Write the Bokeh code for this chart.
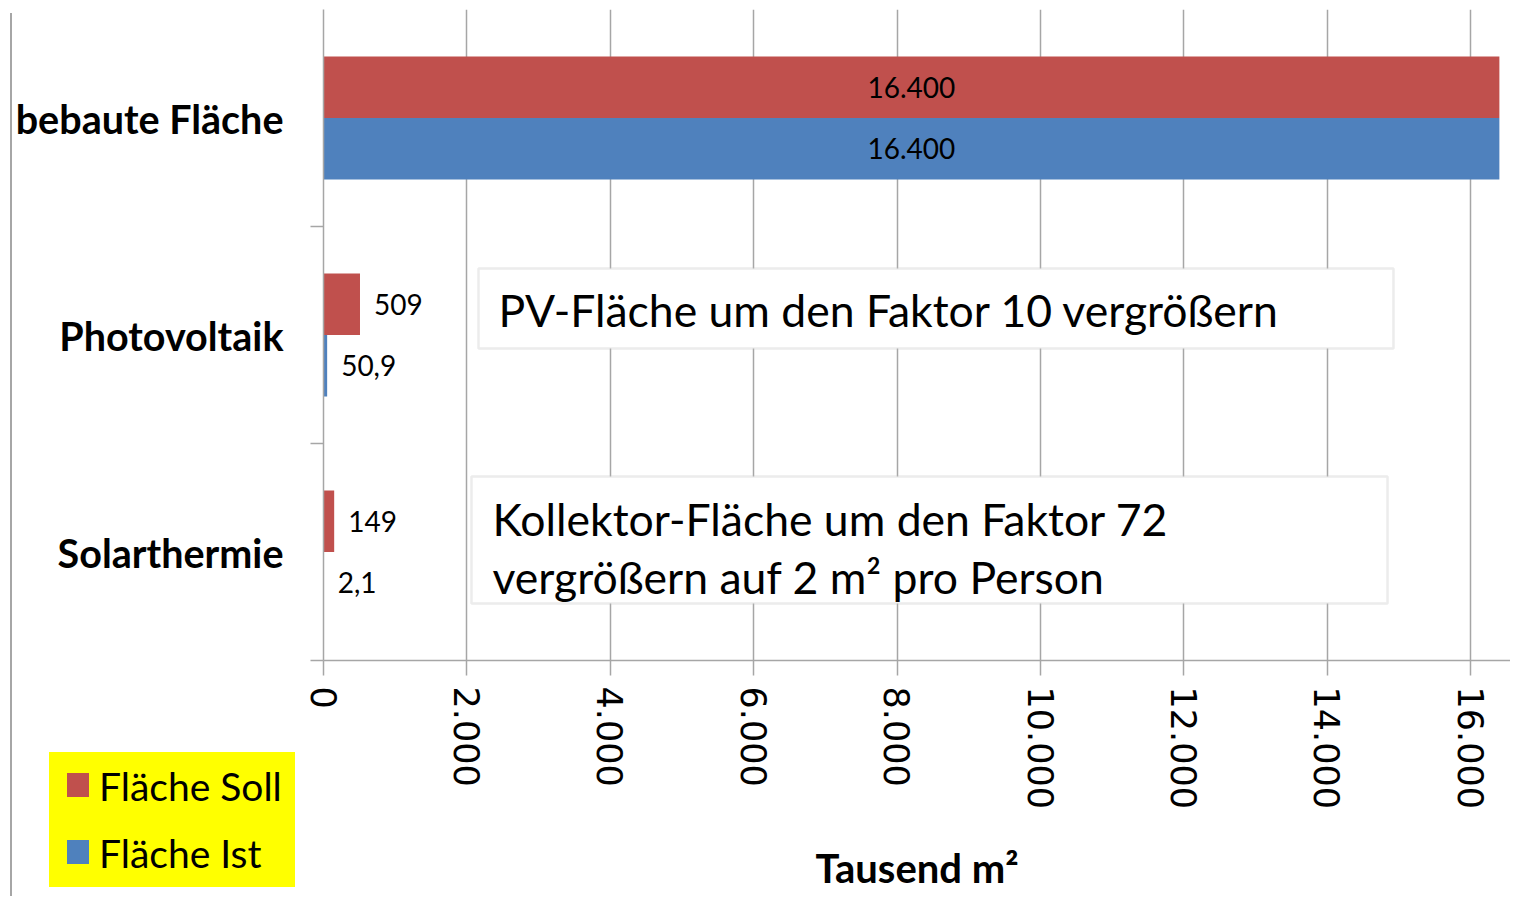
import math
import numpy as np
from bokeh.plotting import figure
from bokeh.layouts import column
from bokeh.models import (Range1d, FixedTicker, ColumnDataSource, LabelSet, Label,
                          BoxAnnotation, Div, InlineStyleSheet)
from bokeh.core.properties import value, field
from bokeh.transform import dodge
from bokeh.embed import file_html
from bokeh.resources import INLINE

# ---- data ----
categories = ["bebaute Fläche", "Photovoltaik", "Solarthermie"]
soll = [16400, 509, 149]
ist = [16400, 50.9, 2.1]
soll_text = ["16.400", "509", "149"]
ist_text = ["16.400", "50,9", "2,1"]
x_ticks = [0, 2000, 4000, 6000, 8000, 10000, 12000, 14000, 16000]
x_tick_labels = ["0", "2.000", "4.000", "6.000", "8.000", "10.000", "12.000", "14.000", "16.000"]
series_names = ["Fläche Soll", "Fläche Ist"]
note_pv = "PV-Fläche um den Faktor 10 vergrößern"
note_st = "Kollektor-Fläche um den Faktor 72\nvergrößern auf 2 m² pro Person"
x_title = "Tausend m²"

RED = "#C0504D"
BLUE = "#4F81BD"
series_colors = [RED, BLUE]
GRID = "#a6a6a6"
FONT = "Lato"

ypos = np.arange(len(categories)) + 0.5
OFF = 0.1417

def lab_x(vals):
    return [v / 2 if v > 8000 else v for v in vals]

def lab_align(vals):
    return ["center" if v > 8000 else "left" for v in vals]

def lab_off(vals):
    return [0 if v > 8000 else 14 for v in vals]

src = ColumnDataSource(dict(
    y=ypos, soll=soll, ist=ist,
    soll_text=soll_text, ist_text=ist_text,
    soll_lx=lab_x(soll), ist_lx=lab_x(ist),
    soll_al=lab_align(soll), ist_al=lab_align(ist),
    soll_off=lab_off(soll), ist_off=lab_off(ist),
))

W, H = 1510, 896
TOP, BOTTOM_Y = 9, 660
p = figure(width=W, height=H, x_range=Range1d(0, 16555), y_range=Range1d(3, 0),
           output_backend="svg", toolbar_location=None,
           min_border_left=323, min_border_right=0, min_border_top=TOP,
           min_border_bottom=H - BOTTOM_Y)
p.outline_line_color = None
p.background_fill_color = "white"

bh = 0.2835
r_soll = p.hbar(y=dodge("y", -OFF, range=p.y_range), right="soll", left=0, height=bh,
                source=src, fill_color=RED, line_color=None)
r_ist = p.hbar(y=dodge("y", OFF, range=p.y_range), right="ist", left=0, height=bh,
               source=src, fill_color=BLUE, line_color=None)

for col, off in (("soll", -OFF), ("ist", OFF)):
    ls = LabelSet(x=f"{col}_lx", y=dodge("y", off, range=p.y_range), text=f"{col}_text",
                  source=src, text_align=field(f"{col}_al"),
                  x_offset=field(f"{col}_off"), text_baseline="middle",
                  text_font=value(FONT), text_font_size="28px", text_color="black")
    p.add_layout(ls)

# x axis
p.xaxis.ticker = FixedTicker(ticks=x_ticks)
p.xaxis.major_label_overrides = {t: l for t, l in zip(x_ticks, x_tick_labels)}
p.xaxis.major_label_orientation = -math.pi / 2
p.xaxis.major_label_text_font = "DejaVu Sans"
p.xaxis.major_label_text_font_size = "35px"
p.xaxis.major_label_text_color = "black"
p.xaxis.major_label_standoff = 11
p.xaxis.axis_line_color = GRID
p.xaxis.axis_line_width = 1.5
p.xaxis.major_tick_out = 15
p.xaxis.major_tick_in = 0
p.xaxis.major_tick_line_color = GRID
p.xaxis.major_tick_line_width = 1.5
p.xaxis.minor_tick_line_color = None
p.xaxis.axis_label = x_title
p.xaxis.axis_label_text_font = FONT
p.xaxis.axis_label_text_font_style = "bold"
p.xaxis.axis_label_text_font_size = "40px"
p.xaxis.axis_label_text_color = "black"
p.xaxis.axis_label_standoff = 32

# y axis (categories)
p.yaxis.ticker = FixedTicker(ticks=list(ypos), minor_ticks=[1, 2, 3])
p.yaxis.major_label_overrides = {float(y): c for y, c in zip(ypos, categories)}
p.yaxis.major_label_text_font = FONT
p.yaxis.major_label_text_font_style = "bold"
p.yaxis.major_label_text_font_size = "39.5px"
p.yaxis.major_label_text_color = "black"
p.yaxis.major_label_standoff = 27
p.yaxis.major_tick_out = 0
p.yaxis.major_tick_in = 0
p.yaxis.minor_tick_out = 13
p.yaxis.minor_tick_in = 0
p.yaxis.minor_tick_line_color = GRID
p.yaxis.minor_tick_line_width = 1.5
p.yaxis.axis_line_color = GRID
p.yaxis.axis_line_width = 1.5

p.xgrid.ticker = FixedTicker(ticks=x_ticks)
p.xgrid.grid_line_color = GRID
p.xgrid.grid_line_width = 1.5
p.ygrid.grid_line_color = None

# annotation boxes
p.add_layout(BoxAnnotation(left=2162, right=14923, top=1.194, bottom=1.562,
                           fill_color="white", fill_alpha=1, line_color="#bfbfbf", line_width=2.5))
p.add_layout(Label(x=2441, y=1.382, text=note_pv, text_baseline="middle", text_align="left",
                   text_font=FONT, text_font_size="44.5px", text_color="black"))
p.add_layout(BoxAnnotation(left=2064, right=14840, top=2.152, bottom=2.737,
                           fill_color="white", fill_alpha=1, line_color="#bfbfbf", line_width=2.5))
p.add_layout(Label(x=2357, y=2.480, text=note_st, text_baseline="middle", text_align="left",
                   text_font=FONT, text_font_size="44.5px", text_color="black", text_line_height=1.085))

# thin vertical line on the far left (decoration)
p.stylesheets = [InlineStyleSheet(css=":host{position:relative}"
                                  ":host::after{content:'';position:absolute;left:10px;top:13px;"
                                  "width:1.5px;height:883px;background:#a6a6a6;z-index:10;"
                                  "pointer-events:none}")]

# legend: yellow panel overlapping the bottom-left corner
rows = []
for i, (name, colr) in enumerate(zip(series_names, series_colors)):
    top = 21 + i * 67
    rows.append(
        f'<div style="position:absolute;left:18px;top:{top}px;height:24px;display:flex;'
        f'align-items:center;white-space:nowrap">'
        f'<span style="display:inline-block;width:22px;height:24px;background:{colr}"></span>'
        f'<span style="margin-left:10px;line-height:24px;position:relative;top:1px">{name}</span></div>'
    )
legend_html = (
    '<div style="position:relative;width:246px;height:135px;background:#FFFF00;'
    f'font-family:Lato;font-size:39px;color:#000">{"".join(rows)}</div>'
)
leg = Div(text=legend_html, width=246, height=135, margin=(752 - H, 0, 0, 49))

layout = column(p, leg, spacing=0)

open("out.html", "w").write(file_html(layout, INLINE))
